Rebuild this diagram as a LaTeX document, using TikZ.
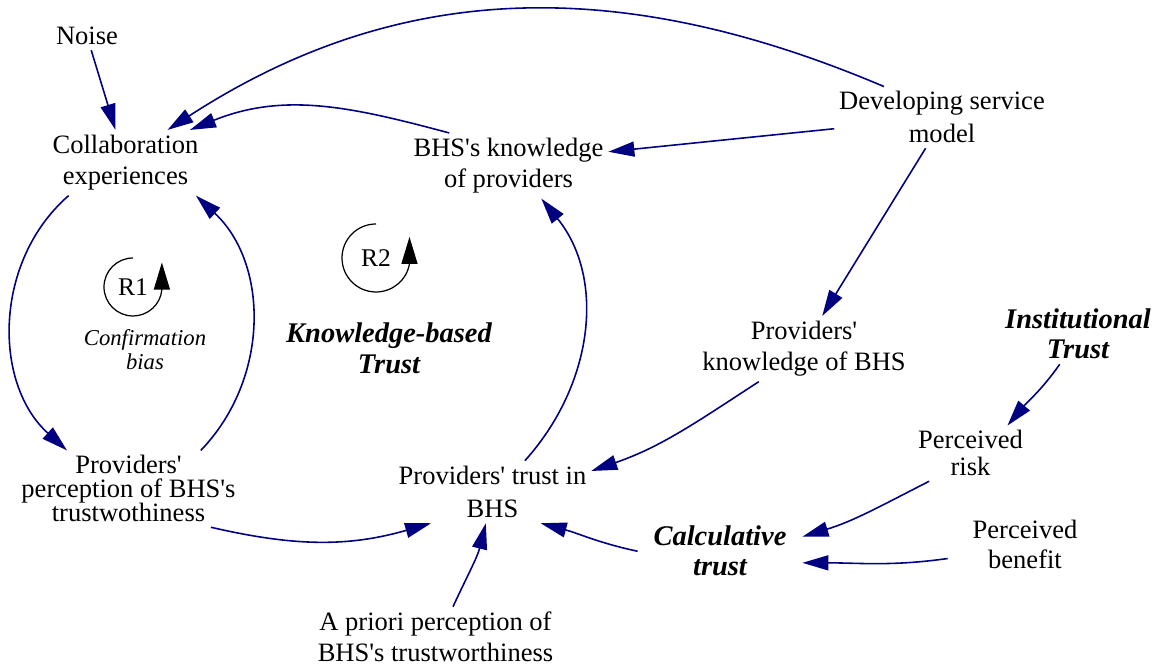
\documentclass[tikz,border=0pt]{standalone}
\usepackage{fontspec}
\setmainfont{Liberation Serif}[Ligatures=TeXOff]
\usetikzlibrary{arrows.meta}

\definecolor{lienbleu}{RGB}{0,0,128}
\newcommand{\fontvar}{\fontsize{15.1}{18}\selectfont}
\newcommand{\fonttype}{\fontsize{16.2}{17.6}\selectfont\bfseries\itshape}

\begin{document}
\begin{tikzpicture}[x=0.02cm, y=0.02cm, % 1 unité = 1 pixel de l'original
  var/.style={align=center, anchor=base, inner sep=0.1cm, outer sep=0pt, font=\fontvar},
  typeconf/.style={align=center, anchor=base, inner sep=0.1cm, outer sep=0pt, font=\fonttype},
  lien/.style={draw=lienbleu, line width=0.9pt, -{Triangle[length=0.52cm, width=0.3cm]}},
  boucle/.style={line width=0.7pt, -{Triangle[length=0.54cm, width=0.32cm]}}]
  \useasboundingbox (0,0) rectangle (1161,668);

  % Variables (ancre = ligne de base de la dernière ligne)
  \node[var] (noise) at (87,623) {Noise};
  \node[var] (collab) at (125.5,483) {Collaboration\\experiences};
  \node[var] (bhsknow) at (508.5,480) {BHS's knowledge\\of providers};
  \node[var, font=\fontsize{15.1}{18.8}\selectfont] (devmodel) at (942,525) {Developing service\\model};
  \node[var] (provknow) at (804,297) {Providers'\\knowledge of BHS};
  \node[var, font={\fontsize{15.1}{13.7}\selectfont\lineskiplimit=-10pt}] (perc) at (128.5,146)
    {Providers'\\perception of BHS's\\trustwothiness};
  \node[var, font=\fontsize{15.1}{19.3}\selectfont] (trust) at (492.5,150) {Providers' trust in\\BHS};
  \node[var, font=\fontsize{15.1}{15.4}\selectfont] (risk) at (970.5,192) {Perceived\\risk};
  \node[var, inner xsep=0.5cm, font=\fontsize{15.1}{17.1}\selectfont] (benefit) at (1025,99) {Perceived\\benefit};
  \node[var] (apriori) at (435.5,6) {A priori perception of\\BHS's trustworthiness};

  % Types de confiance
  \node[typeconf] (inst) at (1078,309) {Institutional\\Trust};
  \node[typeconf, inner xsep=0.32cm, font=\fontsize{16.2}{17.1}\selectfont\bfseries\itshape] (calc) at (720,92) {Calculative\\trust};
  \node[typeconf, font=\fontsize{16.2}{18.2}\selectfont\bfseries\itshape] (kbt) at (389,294) {Knowledge-based\\Trust};

  % Boucles
  \node[inner sep=0pt, font=\fontsize{14.5}{14.5}\selectfont] (r1) at (133,381) {R1};
  \node[inner sep=0pt, font=\fontsize{14.5}{14.5}\selectfont] (r2) at (376,410) {R2};
  \node[align=center, anchor=base, font=\fontsize{12.9}{14.2}\selectfont\itshape] (biais) at (145,298) {Confirmation\\bias};
  \foreach \n/\r/\e in {r1/29/355, r2/34/350}
    \draw[boucle] (\n.center) ++(90:\r) arc[start angle=90, end angle=\e, radius=\r] -- ++(0,27);

  % Liens droits
  \foreach \s/\e in {noise/collab, devmodel.186/bhsknow.8, devmodel.242/provknow.61}
    \draw[lien] (\s) -- (\e);

  % Liens courbes
  \foreach \s/\o/\i/\e in {devmodel.152/157/33/collab.38,
      bhsknow.151/165/22/collab.27,
      collab.210/221/138/perc.148,
      perc.28/46/317/collab.335,
      perc.335/-13/196/trust.207,
      trust.44/48/309/bhsknow.315,
      provknow.216/213/19/trust.12,
      inst.239/235/50/risk.37,
      risk.214/207/17/calc.10,
      benefit.190/188/0/calc.352,
      calc.180/168/345/trust.327,
      apriori.60/65/256/trust.258}
    \draw[lien] (\s) to[out=\o, in=\i] (\e);
\end{tikzpicture}
\end{document}
